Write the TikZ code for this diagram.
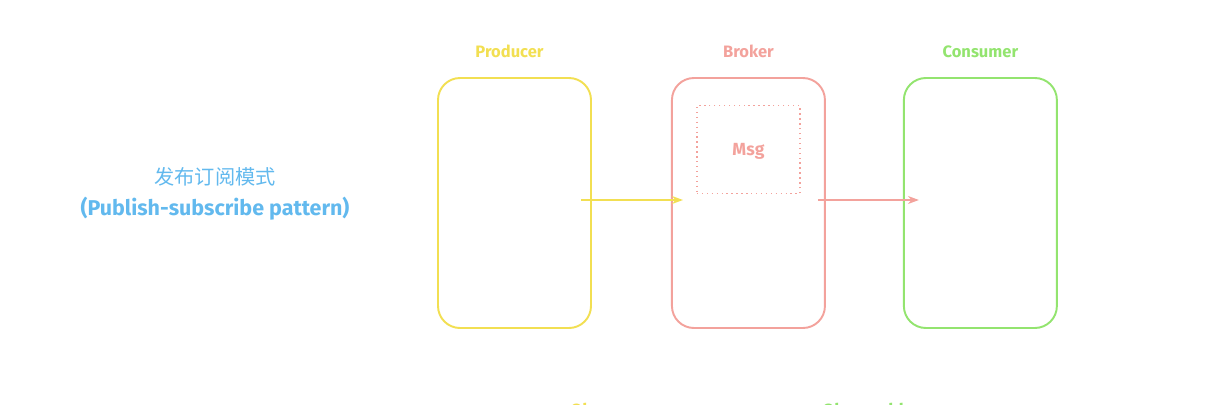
\documentclass[tikz,border=0pt]{standalone}
\usepackage{fontspec}
\setmainfont{Fira Sans}
\newfontfamily\cjk{Noto Sans CJK SC}
\usetikzlibrary{arrows.meta, positioning}

\definecolor{prodyellow}{HTML}{F2DF52}
\definecolor{brokerred}{HTML}{F3A29C}
\definecolor{consgreen}{HTML}{93E46F}
\definecolor{titleblue}{HTML}{62B9EE}

\begin{document}
\begin{tikzpicture}[node distance=1.58cm,
    every node/.style={font=\fontsize{9}{10}\selectfont},
    >={Stealth[length=2.2mm, width=1.6mm]},
    role/.style={rectangle, rounded corners=0.44cm, line width=1.1pt, minimum width=3.06cm, minimum height=5cm},
    title/.style={inner sep=0pt, font=\fontsize{9.4}{10}\selectfont\bfseries},
    line/.style={draw, ->, line width=0.9pt}]

\useasboundingbox (0,0) rectangle (24.26,-8.08);

% Roles
\node[role, draw=prodyellow] (prod) at (10.29,-4.06) {};
\node[role, draw=brokerred, right=of prod] (broker) {};
\node[role, draw=consgreen, right=1.54cm of broker] (cons) {};

% Titles
\node[title, text=prodyellow, above=0.37cm of prod, xshift=-0.1cm] (prodlabel) {Producer};
\node[title, text=brokerred, above=0.37cm of broker] (brokerlabel) {Broker};
\node[title, text=consgreen, above=0.37cm of cons] (conslabel) {Consumer};

% Message
\node[draw=brokerred, dotted, line width=0.8pt, minimum width=2.06cm, minimum height=1.76cm, below=0.56cm of broker.north, anchor=north, text=brokerred, text depth=-0.1cm, font=\fontsize{10}{12}\selectfont\bfseries] (msg) {Msg};

% Pattern name
\node[text=titleblue, font=\cjk\fontsize{11.5}{13}\selectfont] (namecn) at (4.3,-3.54) {发布订阅模式};
\node[text=titleblue, below=-0.04cm of namecn, font=\fontsize{12.2}{13}\selectfont\bfseries] (nameen) {(Publish-subscribe pattern)};

% Next pattern (cut off)
\node[text=prodyellow, anchor=north, font=\fontsize{10}{12}\selectfont\bfseries] (observer) at (12.14,-7.94) {Observer};
\node[text=consgreen, anchor=north, font=\fontsize{10}{12}\selectfont\bfseries] (observable) at (17.36,-7.94) {Observable};

% Paths
\draw [line, prodyellow] ([xshift=-0.22cm, yshift=0.06cm]prod.east) -- ([xshift=0.24cm, yshift=0.06cm]broker.west);
\draw [line, brokerred] ([xshift=-0.16cm, yshift=0.06cm]broker.east) -- ([xshift=0.32cm, yshift=0.06cm]cons.west);

\end{tikzpicture}
\end{document}
